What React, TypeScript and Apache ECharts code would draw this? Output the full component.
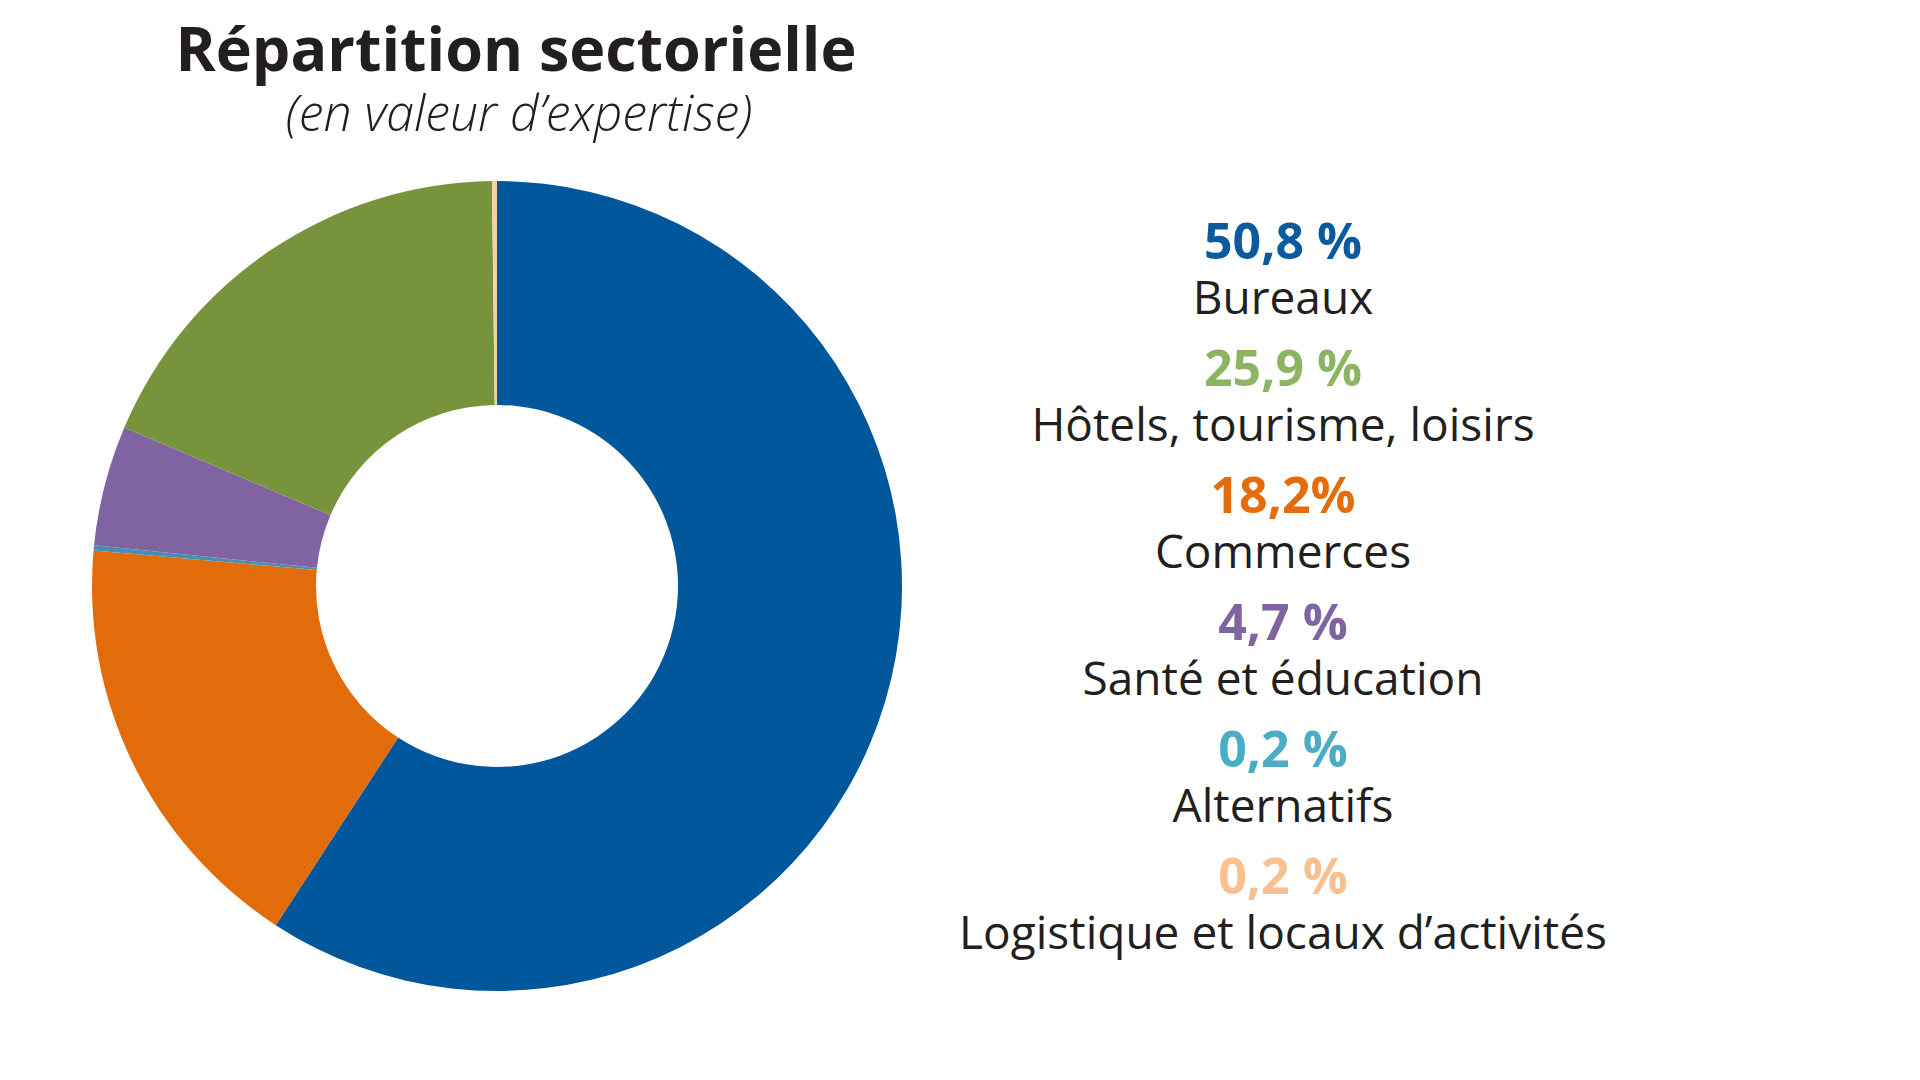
import React, { useEffect, useRef } from "react";
import * as echarts from "echarts";

// Slices, clockwise from 12 o'clock, as drawn in the picture
const sliceNames = [
  "Bureaux",
  "Commerces",
  "Alternatifs",
  "Santé et éducation",
  "Hôtels, tourisme, loisirs",
  "Logistique et locaux d’activités",
];
const sliceValues = [59.2, 17.2, 0.2, 4.8, 18.4, 0.2];
const sliceColors = ["#00579B", "#E36C0A", "#4A8DB3", "#8064A2", "#77933C", "#F3D3A2"];

// Right-hand list, top to bottom
const listPercents = ["50,8 %", "25,9 %", "18,2%", "4,7 %", "0,2 %", "0,2 %"];
const listNames = [
  "Bureaux",
  "Hôtels, tourisme, loisirs",
  "Commerces",
  "Santé et éducation",
  "Alternatifs",
  "Logistique et locaux d’activités",
];
const listColors = ["#0A5A9C", "#8DB463", "#E46C0A", "#8064A2", "#4BACC6", "#FAC08F"];

const titleText = "Répartition sectorielle";
const subtitleText = "(en valeur d’expertise)";

const FONT = "'Open Sans', 'Noto Sans', sans-serif";

export default function App() {
  const ref = useRef<HTMLDivElement>(null);

  useEffect(() => {
    document.body.style.margin = "0";
    if (!ref.current) return;
    const chart = echarts.init(ref.current, undefined, { renderer: "svg" });

    const listX = 1283;
    const firstPctY = 240;
    const firstNameY = 296;
    const step = 127;

    const graphics: any[] = [];
    listPercents.forEach((p, i) => {
      graphics.push({
        type: "text",
        x: listX,
        y: firstPctY + i * step,
        style: {
          text: p,
          fill: listColors[i],
          font: `bold 50px ${FONT}`,
          lineHeight: 50,
          textAlign: "center",
          textVerticalAlign: "middle",
        },
      });
      graphics.push({
        type: "text",
        x: listX,
        y: firstNameY + i * step,
        style: {
          text: listNames[i],
          fill: "#231F20",
          font: `46px ${FONT}`,
          lineHeight: 46,
          textAlign: "center",
          textVerticalAlign: "middle",
        },
      });
    });

    graphics.push({
      type: "text",
      x: 516,
      y: 47,
      style: {
        text: titleText,
        fill: "#231F20",
        font: `bold 61px ${FONT}`,
        lineHeight: 61,
        textAlign: "center",
        textVerticalAlign: "middle",
      },
    });
    graphics.push({
      type: "text",
      x: 519,
      y: 112,
      style: {
        text: subtitleText,
        fill: "#231F20",
        font: `italic 300 50px ${FONT}`,
        lineHeight: 50,
        textAlign: "center",
        textVerticalAlign: "middle",
      },
    });

    chart.setOption({
      animation: false,
      backgroundColor: "#ffffff",
      graphic: graphics,
      series: [
        {
          type: "pie",
          center: [497, 586],
          radius: [181, 405],
          startAngle: 90,
          clockwise: true,
          label: { show: false },
          labelLine: { show: false },
          emphasis: { disabled: true },
          itemStyle: { borderWidth: 0 },
          data: sliceNames.map((n, i) => ({
            name: n,
            value: sliceValues[i],
            itemStyle: { color: sliceColors[i] },
          })),
        },
      ],
    });

    return () => chart.dispose();
  }, []);

  return <div ref={ref} style={{ width: 1920, height: 1080 }} />;
}
